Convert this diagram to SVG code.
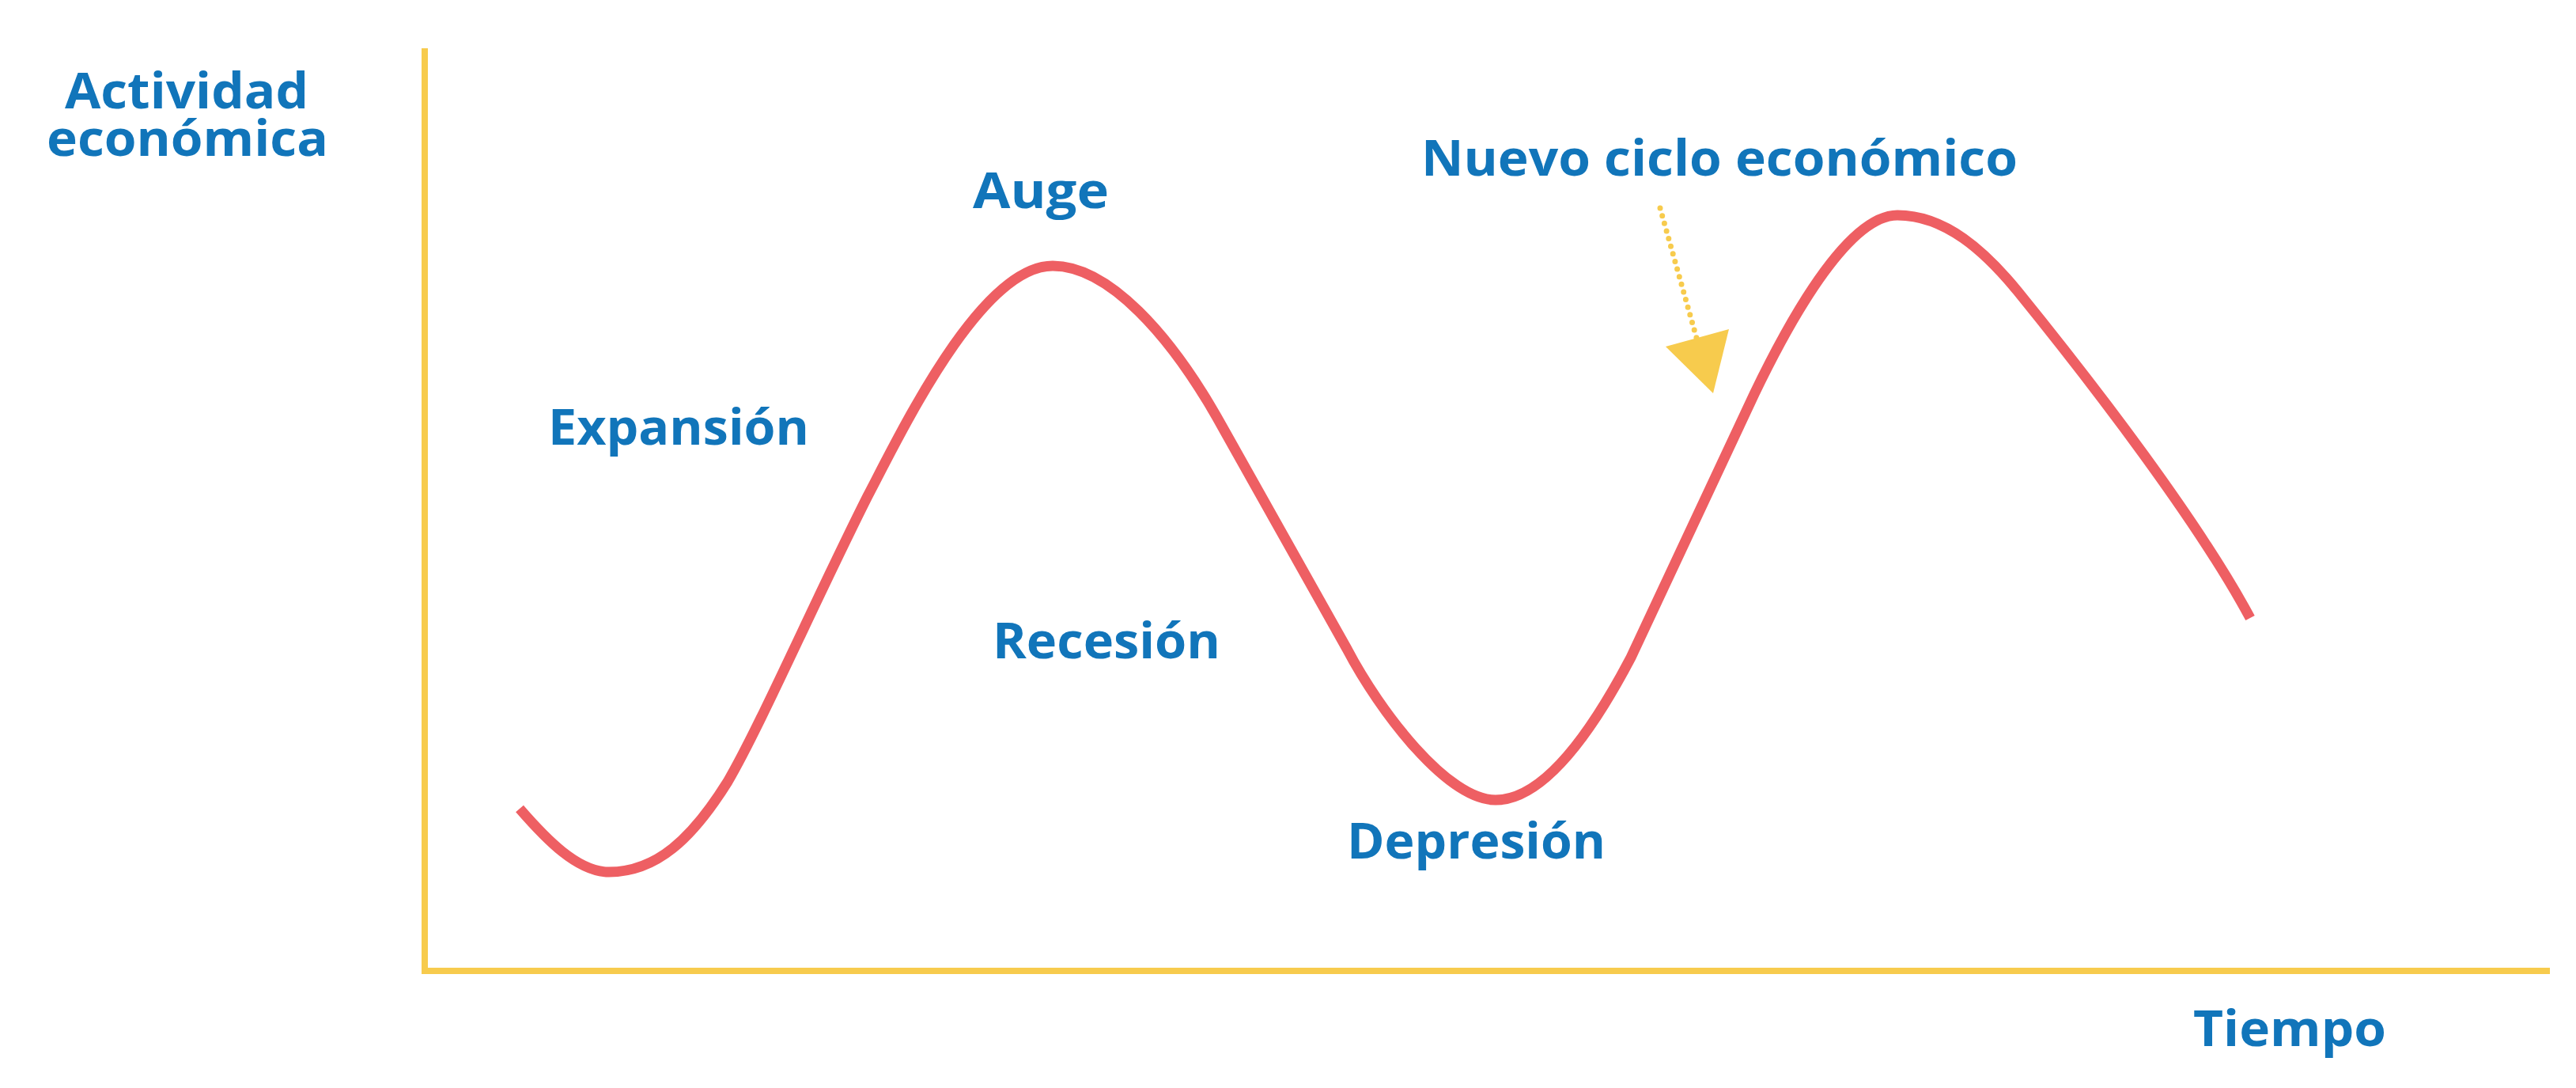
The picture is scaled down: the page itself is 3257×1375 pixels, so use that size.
<svg xmlns="http://www.w3.org/2000/svg" width="3257" height="1375" viewBox="0 0 3257 1375">
<style>
.lbl{font-family:"Open Sans","Liberation Sans",sans-serif;font-weight:700;font-size:62px;fill:#1175BA}
.axis{stroke:#F7CB4D;stroke-width:8;fill:none}
.curve{stroke:#EE5F63;stroke-width:13;fill:none;stroke-linecap:butt;stroke-linejoin:round}
</style>
<rect width="3257" height="1375" fill="#ffffff"/>
<g id="axes">
<line class="axis" x1="537" y1="61" x2="537" y2="1231"/>
<line class="axis" x1="533" y1="1227" x2="3224" y2="1227"/>
</g>
<g id="labels">
<text id="y-label-1" class="lbl" x="82" y="137" textLength="308" lengthAdjust="spacingAndGlyphs">Actividad</text>
<text id="y-label-2" class="lbl" x="59" y="197" textLength="356" lengthAdjust="spacingAndGlyphs">económica</text>
<text id="x-label" class="lbl" x="2773" y="1322" textLength="244" lengthAdjust="spacingAndGlyphs">Tiempo</text>
</g>
<g id="cycle-curve">
<path class="curve" d="M657,1022 C690,1060 730,1102 770,1102 C830,1102 875,1060 920,988 C960,920 1030,760 1097,627 C1140,545 1240,336 1331,336 C1400,336 1480,420 1548,544 L1703,820 C1745,900 1830,1011 1891,1011 C1950,1011 2010,930 2062,831 L2218,498 C2270,390 2340,272 2399,272 C2460,272 2510,318 2551,368 C2650,490 2780,660 2845,781"/>
</g>
<g id="phases">
<text id="auge" class="lbl" x="1230" y="263" textLength="172" lengthAdjust="spacingAndGlyphs">Auge</text>
<text id="expansion" class="lbl" x="693" y="562" textLength="330" lengthAdjust="spacingAndGlyphs">Expansión</text>
<text id="recesion" class="lbl" x="1255" y="832" textLength="288" lengthAdjust="spacingAndGlyphs">Recesión</text>
<text id="depresion" class="lbl" x="1703" y="1085" textLength="327" lengthAdjust="spacingAndGlyphs">Depresión</text>
</g>
<g id="nuevo-ciclo">
<text class="lbl" x="1797" y="222" textLength="754" lengthAdjust="spacingAndGlyphs">Nuevo ciclo económico</text>
</g>
<g id="connectors">
<line x1="2099" y1="263" x2="2145" y2="427" stroke="#F7CB4D" stroke-width="7" stroke-linecap="round" stroke-dasharray="0 10"/>
<polygon points="2106,438 2186,416 2166,497" fill="#F7CB4D"/>
</g>
</svg>
